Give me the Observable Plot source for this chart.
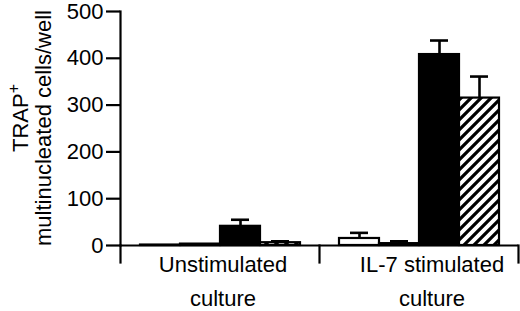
<!DOCTYPE html>
<html><head><meta charset="utf-8">
<script src="https://cdn.jsdelivr.net/npm/d3@7"></script>
<script src="https://cdn.jsdelivr.net/npm/@observablehq/plot@0.6"></script>
<style>body{margin:0;background:#fff;}</style>
</head><body><div id="chart"></div>
<script>
// Groups (x facets) and their two-line labels
const groups = ["Unstimulated culture", "IL-7 stimulated culture"];
const groupLabels = ["Unstimulated\nculture", "IL-7 stimulated\nculture"];
// Four bar series within each group (open, stippled, solid, hatched)
const series = ["open", "stippled", "solid", "hatched"];
const unstimulatedValues = [1, 3, 41, 6];
const unstimulatedErrors = [0, 0, 14, 3];
const il7Values = [15, 4, 408, 315];
const il7Errors = [12, 5, 30, 46];
const yTicks = [0, 100, 200, 300, 400, 500];
const yTitleLine1 = "TRAP";
const yTitleSup = "+";
const yTitleLine2 = "multinucleated cells/well";

const valuesByGroup = [unstimulatedValues, il7Values];
const errorsByGroup = [unstimulatedErrors, il7Errors];
const data = groups.flatMap((g, gi) => series.map((s, si) => ({
  group: g, series: s, value: valuesByGroup[gi][si], err: errorsByGroup[gi][si]
})));
const labels = groups.map((g, i) => ({group: g, text: groupLabels[i]}));

const chart = Plot.plot({
  width: 520, height: 311,
  marginLeft: 120, marginRight: 2, marginTop: 11, marginBottom: 66,
  style: {fontFamily: "'Liberation Sans', Arial, sans-serif", fontSize: "22px", color: "black", background: "white"},
  fx: {domain: groups, padding: 0, axis: null},
  x: {domain: series, paddingInner: 0, paddingOuter: 0.45, axis: null},
  y: {domain: [0, 500], axis: null},
  color: {domain: series, range: ["white", "url(#stipple)", "black", "url(#hatch)"]},
  marks: [
    Plot.barY(data, {fx: "group", x: "series", y: "value", fill: "series", stroke: "black", strokeWidth: 2.2}),
    Plot.ruleX(data.filter(d => d.err > 0), {fx: "group", x: "series", y1: "value", y2: d => d.value + d.err, stroke: "black", strokeWidth: 2.6}),
    Plot.tickY(data.filter(d => d.err > 0), {fx: "group", x: "series", y: d => d.value + d.err, stroke: "black", strokeWidth: 2.6, insetLeft: 11, insetRight: 11}),
    Plot.ruleY([0], {stroke: "black", strokeWidth: 2.2}),
    Plot.frame({anchor: "left", facetAnchor: "left", stroke: "black", strokeWidth: 2.2}),
    Plot.frame({anchor: "left", insetTop: 234, insetBottom: -17, stroke: "black", strokeWidth: 2.2}),
    Plot.frame({anchor: "right", facetAnchor: "right", insetTop: 234, insetBottom: -17, stroke: "black", strokeWidth: 2.2}),
    Plot.axisY({ticks: yTicks, tickSize: 14, tickPadding: 3, strokeWidth: 2.2, label: null, fontSize: 22, fill: "black"}),
    Plot.text(labels.slice(0, 1), {fx: "group", text: "text", frameAnchor: "bottom", lineAnchor: "top", lineHeight: 1.55, dy: 2, dx: 3, fontSize: 22, fill: "black"}),
    Plot.text(labels.slice(1, 2), {fx: "group", text: "text", frameAnchor: "bottom", lineAnchor: "top", lineHeight: 1.55, dy: 2, dx: 13, fontSize: 22, fill: "black"})
  ]
});

const svg = d3.select(chart);
const defs = svg.insert("defs", ":first-child");
const st = defs.append("pattern").attr("id", "stipple").attr("patternUnits", "userSpaceOnUse").attr("width", 2).attr("height", 2);
st.append("rect").attr("width", 2).attr("height", 2).attr("fill", "white");
st.append("rect").attr("width", 1).attr("height", 1).attr("fill", "black");
const ht = defs.append("pattern").attr("id", "hatch").attr("patternUnits", "userSpaceOnUse").attr("width", 10).attr("height", 10);
ht.append("rect").attr("width", 10).attr("height", 10).attr("fill", "white");
ht.append("path").attr("d", "M-2,2 L2,-2 M0,10 L10,0 M8,12 L12,8").attr("stroke", "black").attr("stroke-width", 3.2);

const title = svg.append("g").attr("font-family", "'Liberation Sans', Arial, sans-serif").attr("font-size", 22).attr("fill", "black").attr("text-anchor", "middle");
const t1 = title.append("text").attr("transform", "translate(28,118) rotate(-90)");
t1.append("tspan").text(yTitleLine1);
t1.append("tspan").attr("dy", -9).attr("font-size", 16).text(yTitleSup);
title.append("text").attr("transform", "translate(51,128) rotate(-90)").text(yTitleLine2);

document.getElementById("chart").appendChild(chart);
</script>
</body></html>
